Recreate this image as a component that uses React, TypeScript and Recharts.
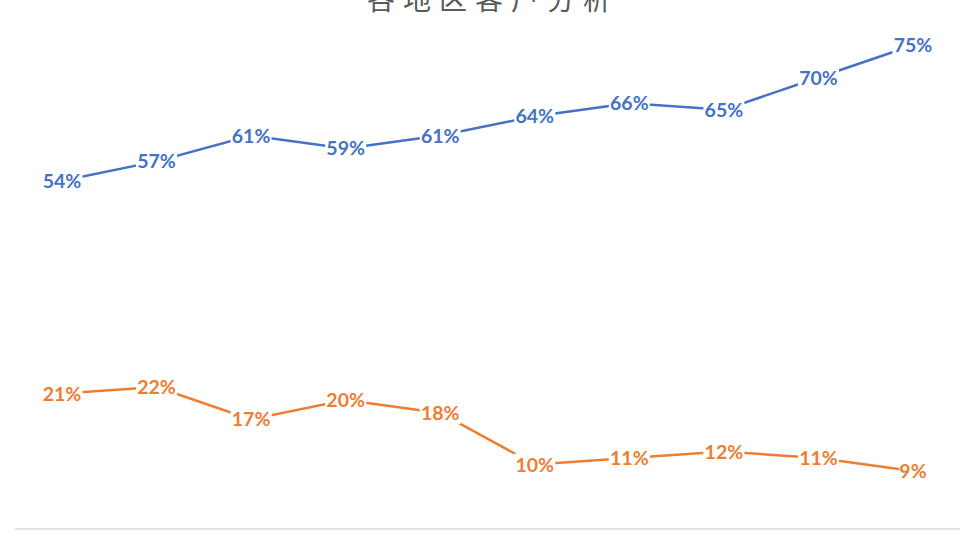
import { LineChart, Line, XAxis, YAxis, ReferenceLine, LabelList } from 'recharts';

// periods (axis labels are cut off in the reference)
const periods = ['1月', '2月', '3月', '4月', '5月', '6月', '7月', '8月', '9月', '10月'];
const seriesA = [0.54, 0.57, 0.61, 0.59, 0.61, 0.64, 0.66, 0.65, 0.70, 0.75];
const seriesB = [0.21, 0.22, 0.17, 0.20, 0.18, 0.10, 0.11, 0.12, 0.11, 0.09];
const yTicks = [0, 0.2, 0.4, 0.6, 0.8];
const title = '各地区客户分析';

const BLUE = '#4472C4';
const ORANGE = '#ED7D31';

const chartData = periods.map((p, i) => ({ period: p, a: seriesA[i], b: seriesB[i] }));

const pct = (v: number) => `${Math.round(v * 100)}%`;

// Excel-style data label: centred on the point, white box behind it
const makeLabel = (color: string) => (props: any) => {
    const { x, y, value } = props;
    if (x == null || y == null) return null;
    const text = pct(value);
    const w = text.length * 13 + 2;
    return (
        <g>
            <rect x={x - w / 2} y={y - 11} width={w} height={22} fill="#fff" />
            <text
                x={x}
                y={y}
                dy="0.36em"
                textAnchor="middle"
                fill={color}
                fontFamily="Lato, 'Open Sans', sans-serif"
                fontWeight={700}
                fontSize={19.5}
            >
                {text}
            </text>
        </g>
    );
};

export default function App() {
    return (
        <div style={{ position: 'absolute', left: 0, top: 0, width: 960, height: 540, background: '#fff', overflow: 'hidden' }}>
            <svg width={960} height={40} style={{ position: 'absolute', left: 0, top: 0 }}>
                <text
                    x={493}
                    y={10}
                    textAnchor="middle"
                    fill="#595959"
                    fontSize={28}
                    letterSpacing={8}
                    fontFamily="'Noto Sans CJK SC', sans-serif"
                >
                    {title}
                </text>
            </svg>
            <LineChart
                width={960}
                height={540}
                data={chartData}
                margin={{ top: 13, right: 0, left: 15, bottom: 11 }}
            >
                <XAxis dataKey="period" hide padding={{ left: 47, right: 47 }} />
                <YAxis hide domain={[0, 0.8]} ticks={yTicks} />
                <ReferenceLine y={0} stroke="#D9D9D9" strokeWidth={1.5} />
                <Line
                    type="linear"
                    dataKey="a"
                    stroke={BLUE}
                    strokeWidth={2.5}
                    dot={false}
                    isAnimationActive={false}
                >
                    <LabelList dataKey="a" content={makeLabel(BLUE)} />
                </Line>
                <Line
                    type="linear"
                    dataKey="b"
                    stroke={ORANGE}
                    strokeWidth={2.5}
                    dot={false}
                    isAnimationActive={false}
                >
                    <LabelList dataKey="b" content={makeLabel(ORANGE)} />
                </Line>
            </LineChart>
        </div>
    );
}
